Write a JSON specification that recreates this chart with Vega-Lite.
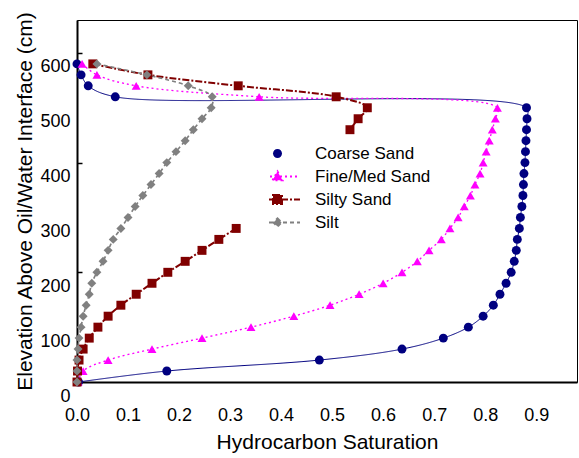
{
  "$schema": "https://vega.github.io/schema/vega-lite/v6.json",
  "width": 500,
  "height": 362,
  "autosize": {"type": "none"},
  "padding": {"left": 77, "top": 20, "right": 2, "bottom": 76},
  "config": {
    "font": "Liberation Sans",
    "view": {"stroke": "#000", "strokeWidth": 1},
    "axis": {"grid": false, "domainColor": "#000", "domainWidth": 2, "labelColor": "#000", "titleColor": "#000", "labelFontSize": 18, "titleFontSize": 21, "titleFontWeight": "normal", "tickColor": "#000"}
  },
  "data": {"values": [
    {"series": "Coarse Sand", "soil": "Coarse Sand", "seg": "a", "x": 0.0, "y": 580},
    {"series": "Coarse Sand", "soil": "Coarse Sand", "seg": "a", "x": 0.008, "y": 560},
    {"series": "Coarse Sand", "soil": "Coarse Sand", "seg": "a", "x": 0.022, "y": 540},
    {"series": "Coarse Sand", "soil": "Coarse Sand", "seg": "a", "x": 0.075, "y": 520},
    {"series": "Coarse Sand", "soil": "Coarse Sand", "seg": "a", "x": 0.881, "y": 500},
    {"series": "Coarse Sand", "soil": "Coarse Sand", "seg": "a", "x": 0.882, "y": 480},
    {"series": "Coarse Sand", "soil": "Coarse Sand", "seg": "a", "x": 0.881, "y": 460},
    {"series": "Coarse Sand", "soil": "Coarse Sand", "seg": "a", "x": 0.880, "y": 440},
    {"series": "Coarse Sand", "soil": "Coarse Sand", "seg": "a", "x": 0.879, "y": 420},
    {"series": "Coarse Sand", "soil": "Coarse Sand", "seg": "a", "x": 0.878, "y": 400},
    {"series": "Coarse Sand", "soil": "Coarse Sand", "seg": "a", "x": 0.876, "y": 380},
    {"series": "Coarse Sand", "soil": "Coarse Sand", "seg": "a", "x": 0.875, "y": 360},
    {"series": "Coarse Sand", "soil": "Coarse Sand", "seg": "a", "x": 0.874, "y": 340},
    {"series": "Coarse Sand", "soil": "Coarse Sand", "seg": "a", "x": 0.872, "y": 320},
    {"series": "Coarse Sand", "soil": "Coarse Sand", "seg": "a", "x": 0.869, "y": 300},
    {"series": "Coarse Sand", "soil": "Coarse Sand", "seg": "a", "x": 0.867, "y": 280},
    {"series": "Coarse Sand", "soil": "Coarse Sand", "seg": "a", "x": 0.863, "y": 260},
    {"series": "Coarse Sand", "soil": "Coarse Sand", "seg": "a", "x": 0.861, "y": 240},
    {"series": "Coarse Sand", "soil": "Coarse Sand", "seg": "a", "x": 0.857, "y": 220},
    {"series": "Coarse Sand", "soil": "Coarse Sand", "seg": "a", "x": 0.851, "y": 200},
    {"series": "Coarse Sand", "soil": "Coarse Sand", "seg": "a", "x": 0.841, "y": 180},
    {"series": "Coarse Sand", "soil": "Coarse Sand", "seg": "a", "x": 0.829, "y": 160},
    {"series": "Coarse Sand", "soil": "Coarse Sand", "seg": "a", "x": 0.816, "y": 140},
    {"series": "Coarse Sand", "soil": "Coarse Sand", "seg": "a", "x": 0.796, "y": 120},
    {"series": "Coarse Sand", "soil": "Coarse Sand", "seg": "a", "x": 0.767, "y": 100},
    {"series": "Coarse Sand", "soil": "Coarse Sand", "seg": "a", "x": 0.718, "y": 80},
    {"series": "Coarse Sand", "soil": "Coarse Sand", "seg": "a", "x": 0.637, "y": 60},
    {"series": "Coarse Sand", "soil": "Coarse Sand", "seg": "a", "x": 0.475, "y": 40},
    {"series": "Coarse Sand", "soil": "Coarse Sand", "seg": "a", "x": 0.176, "y": 20},
    {"series": "Coarse Sand", "soil": "Coarse Sand", "seg": "a", "x": 0.003, "y": 0},
    {"series": "Fine/Med Sand", "soil": "Fine/Med Sand", "seg": "a", "x": 0.010, "y": 580},
    {"series": "Fine/Med Sand", "soil": "Fine/Med Sand", "seg": "a", "x": 0.039, "y": 560},
    {"series": "Fine/Med Sand", "soil": "Fine/Med Sand", "seg": "a", "x": 0.116, "y": 540},
    {"series": "Fine/Med Sand", "soil": "Fine/Med Sand", "seg": "a", "x": 0.357, "y": 520},
    {"series": "Fine/Med Sand", "soil": "Fine/Med Sand", "seg": "a", "x": 0.824, "y": 500},
    {"series": "Fine/Med Sand", "soil": "Fine/Med Sand", "seg": "a", "x": 0.820, "y": 480},
    {"series": "Fine/Med Sand", "soil": "Fine/Med Sand", "seg": "a", "x": 0.814, "y": 460},
    {"series": "Fine/Med Sand", "soil": "Fine/Med Sand", "seg": "a", "x": 0.808, "y": 440},
    {"series": "Fine/Med Sand", "soil": "Fine/Med Sand", "seg": "a", "x": 0.802, "y": 420},
    {"series": "Fine/Med Sand", "soil": "Fine/Med Sand", "seg": "a", "x": 0.796, "y": 400},
    {"series": "Fine/Med Sand", "soil": "Fine/Med Sand", "seg": "a", "x": 0.790, "y": 380},
    {"series": "Fine/Med Sand", "soil": "Fine/Med Sand", "seg": "a", "x": 0.780, "y": 360},
    {"series": "Fine/Med Sand", "soil": "Fine/Med Sand", "seg": "a", "x": 0.771, "y": 340},
    {"series": "Fine/Med Sand", "soil": "Fine/Med Sand", "seg": "a", "x": 0.759, "y": 320},
    {"series": "Fine/Med Sand", "soil": "Fine/Med Sand", "seg": "a", "x": 0.747, "y": 300},
    {"series": "Fine/Med Sand", "soil": "Fine/Med Sand", "seg": "a", "x": 0.731, "y": 280},
    {"series": "Fine/Med Sand", "soil": "Fine/Med Sand", "seg": "a", "x": 0.714, "y": 260},
    {"series": "Fine/Med Sand", "soil": "Fine/Med Sand", "seg": "a", "x": 0.690, "y": 240},
    {"series": "Fine/Med Sand", "soil": "Fine/Med Sand", "seg": "a", "x": 0.667, "y": 220},
    {"series": "Fine/Med Sand", "soil": "Fine/Med Sand", "seg": "a", "x": 0.637, "y": 200},
    {"series": "Fine/Med Sand", "soil": "Fine/Med Sand", "seg": "a", "x": 0.600, "y": 180},
    {"series": "Fine/Med Sand", "soil": "Fine/Med Sand", "seg": "a", "x": 0.553, "y": 160},
    {"series": "Fine/Med Sand", "soil": "Fine/Med Sand", "seg": "a", "x": 0.496, "y": 140},
    {"series": "Fine/Med Sand", "soil": "Fine/Med Sand", "seg": "a", "x": 0.425, "y": 120},
    {"series": "Fine/Med Sand", "soil": "Fine/Med Sand", "seg": "a", "x": 0.341, "y": 100},
    {"series": "Fine/Med Sand", "soil": "Fine/Med Sand", "seg": "a", "x": 0.245, "y": 80},
    {"series": "Fine/Med Sand", "soil": "Fine/Med Sand", "seg": "a", "x": 0.147, "y": 60},
    {"series": "Fine/Med Sand", "soil": "Fine/Med Sand", "seg": "a", "x": 0.061, "y": 40},
    {"series": "Fine/Med Sand", "soil": "Fine/Med Sand", "seg": "a", "x": 0.012, "y": 20},
    {"series": "Fine/Med Sand", "soil": "Fine/Med Sand", "seg": "a", "x": 0.002, "y": 0},
    {"series": "Silty Sand", "soil": "Silty Sand", "seg": "a", "x": 0.031, "y": 580},
    {"series": "Silty Sand", "soil": "Silty Sand", "seg": "a", "x": 0.139, "y": 560},
    {"series": "Silty Sand", "soil": "Silty Sand", "seg": "a", "x": 0.316, "y": 540},
    {"series": "Silty Sand", "soil": "Silty Sand", "seg": "a", "x": 0.508, "y": 520},
    {"series": "Silty Sand", "soil": "Silty Sand", "seg": "a", "x": 0.569, "y": 500},
    {"series": "Silty Sand", "soil": "Silty Sand", "seg": "a", "x": 0.551, "y": 480},
    {"series": "Silty Sand", "soil": "Silty Sand", "seg": "a", "x": 0.535, "y": 460},
    {"series": "Silty Sand", "soil": "Silty Sand", "seg": "b", "x": 0.312, "y": 280},
    {"series": "Silty Sand", "soil": "Silty Sand", "seg": "b", "x": 0.278, "y": 260},
    {"series": "Silty Sand", "soil": "Silty Sand", "seg": "b", "x": 0.245, "y": 240},
    {"series": "Silty Sand", "soil": "Silty Sand", "seg": "b", "x": 0.212, "y": 220},
    {"series": "Silty Sand", "soil": "Silty Sand", "seg": "b", "x": 0.178, "y": 200},
    {"series": "Silty Sand", "soil": "Silty Sand", "seg": "b", "x": 0.147, "y": 180},
    {"series": "Silty Sand", "soil": "Silty Sand", "seg": "b", "x": 0.116, "y": 160},
    {"series": "Silty Sand", "soil": "Silty Sand", "seg": "b", "x": 0.086, "y": 140},
    {"series": "Silty Sand", "soil": "Silty Sand", "seg": "b", "x": 0.061, "y": 120},
    {"series": "Silty Sand", "soil": "Silty Sand", "seg": "b", "x": 0.041, "y": 100},
    {"series": "Silty Sand", "soil": "Silty Sand", "seg": "b", "x": 0.024, "y": 80},
    {"series": "Silty Sand", "soil": "Silty Sand", "seg": "b", "x": 0.012, "y": 60},
    {"series": "Silty Sand", "soil": "Silty Sand", "seg": "b", "x": 0.004, "y": 40},
    {"series": "Silty Sand", "soil": "Silty Sand", "seg": "b", "x": 0.001, "y": 20},
    {"series": "Silty Sand", "soil": "Silty Sand", "seg": "b", "x": 0.0, "y": 0},
    {"series": "Silt", "soil": "Silt", "seg": "a", "x": 0.039, "y": 580},
    {"series": "Silt", "soil": "Silt", "seg": "a", "x": 0.137, "y": 560},
    {"series": "Silt", "soil": "Silt", "seg": "a", "x": 0.218, "y": 540},
    {"series": "Silt", "soil": "Silt", "seg": "a", "x": 0.265, "y": 520},
    {"series": "Silt", "soil": "Silt", "seg": "a", "x": 0.263, "y": 500},
    {"series": "Silt", "soil": "Silt", "seg": "a", "x": 0.245, "y": 480},
    {"series": "Silt", "soil": "Silt", "seg": "a", "x": 0.228, "y": 460},
    {"series": "Silt", "soil": "Silt", "seg": "a", "x": 0.212, "y": 440},
    {"series": "Silt", "soil": "Silt", "seg": "a", "x": 0.194, "y": 420},
    {"series": "Silt", "soil": "Silt", "seg": "a", "x": 0.176, "y": 400},
    {"series": "Silt", "soil": "Silt", "seg": "a", "x": 0.161, "y": 380},
    {"series": "Silt", "soil": "Silt", "seg": "a", "x": 0.145, "y": 360},
    {"series": "Silt", "soil": "Silt", "seg": "a", "x": 0.129, "y": 340},
    {"series": "Silt", "soil": "Silt", "seg": "a", "x": 0.114, "y": 320},
    {"series": "Silt", "soil": "Silt", "seg": "a", "x": 0.100, "y": 300},
    {"series": "Silt", "soil": "Silt", "seg": "a", "x": 0.086, "y": 280},
    {"series": "Silt", "soil": "Silt", "seg": "a", "x": 0.071, "y": 260},
    {"series": "Silt", "soil": "Silt", "seg": "a", "x": 0.061, "y": 240},
    {"series": "Silt", "soil": "Silt", "seg": "a", "x": 0.051, "y": 220},
    {"series": "Silt", "soil": "Silt", "seg": "a", "x": 0.039, "y": 200},
    {"series": "Silt", "soil": "Silt", "seg": "a", "x": 0.029, "y": 180},
    {"series": "Silt", "soil": "Silt", "seg": "a", "x": 0.024, "y": 160},
    {"series": "Silt", "soil": "Silt", "seg": "a", "x": 0.018, "y": 140},
    {"series": "Silt", "soil": "Silt", "seg": "a", "x": 0.012, "y": 120},
    {"series": "Silt", "soil": "Silt", "seg": "a", "x": 0.008, "y": 100},
    {"series": "Silt", "soil": "Silt", "seg": "a", "x": 0.004, "y": 80},
    {"series": "Silt", "soil": "Silt", "seg": "a", "x": 0.002, "y": 60},
    {"series": "Silt", "soil": "Silt", "seg": "a", "x": 0.0, "y": 40},
    {"series": "Silt", "soil": "Silt", "seg": "a", "x": 0.0, "y": 20},
    {"series": "Silt", "soil": "Silt", "seg": "a", "x": 0.0, "y": 0}
  ]},
  "encoding": {
    "x": {"field": "x", "type": "quantitative", "scale": {"domain": [0, 0.98], "nice": false, "zero": false},
      "axis": {"title": "Hydrocarbon Saturation", "values": [0, 0.1, 0.2, 0.3, 0.4, 0.5, 0.6, 0.7, 0.8, 0.9], "format": ".1f", "ticks": false, "labelPadding": 24, "titleY": 60, "titleBaseline": "middle", "labelFlush": false, "labelOverlap": false}},
    "y": {"field": "y", "type": "quantitative", "scale": {"domain": [0, 660], "nice": false},
      "axis": {"title": "Elevation Above Oil/Water Interface (cm)", "values": [0, 100, 200, 300, 400, 500, 600], "tickSize": -5, "tickWidth": 1.5, "tickOpacity": {"condition": {"test": "datum.value % 200 === 0", "value": 1}, "value": 0}, "labelPadding": 12, "labelOffset": 14, "titleX": -52, "titleBaseline": "middle", "labelFlush": false, "labelOverlap": false}},
    "color": {"field": "series", "type": "nominal",
      "scale": {"domain": ["Coarse Sand", "Fine/Med Sand", "Silty Sand", "Silt"], "range": ["#000080", "#FF00FF", "#800000", "#808080"]},
      "legend": {"title": null, "orient": "none", "legendX": 192, "legendY": 123, "direction": "vertical", "labelFontSize": 17, "labelColor": "#000", "labelOffset": 29, "symbolSize": 2025, "clipHeight": 21, "rowPadding": 2, "padding": 0,
        "encode": {"symbols": {"update": {
          "shape": {"signal": "datum.value === 'Coarse Sand' ? 'M-0.2,0A0.2,0.2 0 1,0 0.2,0A0.2,0.2 0 1,0 -0.2,0Z' : datum.value === 'Fine/Med Sand' ? 'M-1,0L1,0M0,-0.22L0.22,0.17L-0.22,0.17Z' : datum.value === 'Silty Sand' ? 'M-1,0L1,0M-0.2,-0.2L0.2,-0.2L0.2,0.2L-0.2,0.2Z' : 'M-1,0L1,0M0,-0.18L0.18,0L0,0.18L-0.18,0Z'"},
          "fill": {"signal": "datum.value === 'Coarse Sand' ? '#000080' : datum.value === 'Fine/Med Sand' ? '#FF00FF' : datum.value === 'Silty Sand' ? '#800000' : '#808080'"},
          "stroke": {"signal": "datum.value === 'Coarse Sand' ? '#000080' : datum.value === 'Fine/Med Sand' ? '#FF00FF' : datum.value === 'Silty Sand' ? '#800000' : '#808080'"},
          "strokeDash": {"signal": "datum.value === 'Fine/Med Sand' ? [2,3] : datum.value === 'Silty Sand' ? [7,2,2,2] : datum.value === 'Silt' ? [4,3] : [1,0]"},
          "strokeWidth": {"signal": "datum.value === 'Coarse Sand' ? 0 : 2"},
          "size": {"value": 2025},
          "opacity": {"value": 1},
          "fillOpacity": {"value": 1},
          "strokeOpacity": {"value": 1}
        }}}}
    }
  },
  "layer": [
    {
      "mark": {"type": "line", "interpolate": "catmull-rom"},
      "encoding": {
        "detail": {"field": "seg"},
        "order": {"field": "y", "sort": "descending"},
        "strokeDash": {"field": "soil", "type": "nominal", "scale": {"range": [[1, 0], [2, 3], [4, 3], [7, 2, 2, 2]]}, "legend": null},
        "strokeWidth": {"field": "soil", "type": "nominal", "scale": {"range": [1, 2, 1.5, 1.5]}, "legend": null}
      }
    },
    {
      "mark": {"type": "point", "filled": true, "opacity": 1, "size": 80},
      "encoding": {
        "shape": {"field": "soil", "type": "nominal", "scale": {"range": ["circle", "triangle-up", "diamond", "square"]}, "legend": null}
      }
    }
  ]
}
